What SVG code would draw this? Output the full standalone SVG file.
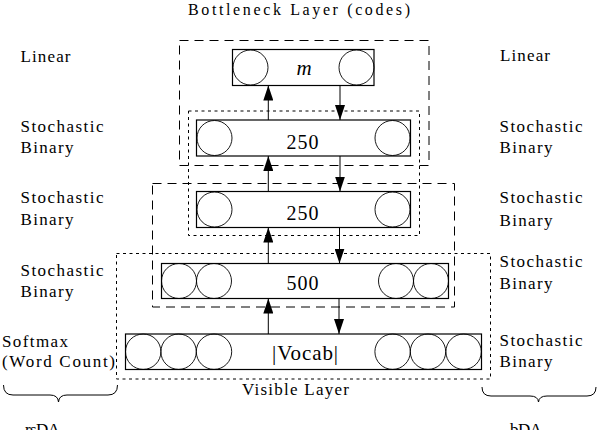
<svg xmlns="http://www.w3.org/2000/svg" width="598" height="430" viewBox="0 0 598 430">
<style>
text{font-family:"Liberation Serif","Times New Roman",serif;font-size:17px;fill:#000}
.num{font-size:20px}
.box{fill:#fff;stroke:#000;stroke-width:1.2}
.unit{fill:none;stroke:#000;stroke-width:0.9}
.dash{fill:none;stroke:#000;stroke-width:1;stroke-dasharray:9 6}
.dot{fill:none;stroke:#000;stroke-width:1;stroke-dasharray:3 3.5}
.conn{stroke:#000;stroke-width:1;fill:none}
.brace{fill:none;stroke:#000;stroke-width:1}
</style>
<defs>
<marker id="ah" viewBox="0 0 15 10" markerUnits="userSpaceOnUse" markerWidth="15" markerHeight="10" refX="15" refY="5" orient="auto">
<path d="M0,0 L15,5 L0,10 z" fill="#000"/>
</marker>
</defs>
<rect width="598" height="430" fill="#fff"/>

<g id="groups">
<rect class="dash" x="179.5" y="40.5" width="249.5" height="125"/>
<rect class="dot" x="188.5" y="111" width="231" height="124.5"/>
<rect class="dash" x="152.5" y="183.5" width="302" height="123.5"/>
<rect class="dot" x="116.5" y="253.5" width="374" height="125.5"/>
</g>

<g id="layer-m">
<rect class="box" x="232.5" y="49.5" width="141.5" height="36"/>
<circle class="unit" cx="250.5" cy="67.5" r="17.5"/>
<circle class="unit" cx="356.5" cy="67.5" r="17.5"/>
<text x="304" y="75" text-anchor="middle" style="font-style:italic;font-size:21px" textLength="18">m</text>
</g>

<g id="layer-250a">
<rect class="box" x="196.5" y="120" width="214" height="36"/>
<circle class="unit" cx="214.5" cy="138" r="17.5"/>
<circle class="unit" cx="392.5" cy="138" r="17.5"/>
<text class="num" x="302.5" y="148.5" text-anchor="middle" textLength="32">250</text>
</g>

<g id="layer-250b">
<rect class="box" x="196.5" y="191.5" width="214" height="36"/>
<circle class="unit" cx="214.5" cy="209.5" r="17.5"/>
<circle class="unit" cx="392.5" cy="209.5" r="17.5"/>
<text class="num" x="302.5" y="219.5" text-anchor="middle" textLength="32">250</text>
</g>

<g id="layer-500">
<rect class="box" x="161.5" y="263.5" width="287" height="35"/>
<circle class="unit" cx="179" cy="281" r="17.5"/>
<circle class="unit" cx="214" cy="281" r="17.5"/>
<circle class="unit" cx="396" cy="281" r="17.5"/>
<circle class="unit" cx="431" cy="281" r="17.5"/>
<text class="num" x="302.5" y="290" text-anchor="middle" textLength="32">500</text>
</g>

<g id="layer-vocab">
<rect class="box" x="125.5" y="334" width="356" height="35.5"/>
<circle class="unit" cx="143.2" cy="351.7" r="17.7"/>
<circle class="unit" cx="178.6" cy="351.7" r="17.7"/>
<circle class="unit" cx="214" cy="351.7" r="17.7"/>
<circle class="unit" cx="392.6" cy="351.7" r="17.7"/>
<circle class="unit" cx="428" cy="351.7" r="17.7"/>
<circle class="unit" cx="463.6" cy="351.7" r="17.7"/>
<text x="305" y="359.5" text-anchor="middle" style="font-size:21px" textLength="66">|Vocab|</text>
</g>

<g id="connectors">
<line class="conn" x1="268.3" y1="120" x2="268.3" y2="85.5" marker-end="url(#ah)"/>
<line class="conn" x1="340" y1="85.5" x2="340" y2="120" marker-end="url(#ah)"/>
<line class="conn" x1="268.3" y1="191.5" x2="268.3" y2="156" marker-end="url(#ah)"/>
<line class="conn" x1="340" y1="156" x2="340" y2="191.5" marker-end="url(#ah)"/>
<line class="conn" x1="268.3" y1="263.5" x2="268.3" y2="227.5" marker-end="url(#ah)"/>
<line class="conn" x1="339.5" y1="227.5" x2="339.5" y2="263.5" marker-end="url(#ah)"/>
<line class="conn" x1="268.3" y1="334" x2="268.3" y2="298.5" marker-end="url(#ah)"/>
<line class="conn" x1="339" y1="298.5" x2="339" y2="334" marker-end="url(#ah)"/>
</g>

<g id="labels">
<text x="188" y="14.5" style="font-size:16px" textLength="222">Bottleneck Layer (codes)</text>
<text x="20.5" y="61.5" textLength="50">Linear</text>
<text x="500" y="61" textLength="50">Linear</text>
<text x="20.5" y="131.7" textLength="83">Stochastic</text>
<text x="20.5" y="153.3" textLength="53">Binary</text>
<text x="20.5" y="203.3" textLength="83">Stochastic</text>
<text x="20.5" y="225" textLength="53">Binary</text>
<text x="20.5" y="275.5" textLength="83">Stochastic</text>
<text x="20.5" y="297" textLength="53">Binary</text>
<text x="2" y="346.7" textLength="66">Softmax</text>
<text x="2" y="366.7" textLength="113">(Word Count)</text>
<text x="499.5" y="131.7" textLength="83">Stochastic</text>
<text x="499.5" y="153.3" textLength="53">Binary</text>
<text x="499.5" y="203.3" textLength="83">Stochastic</text>
<text x="499.5" y="225.5" textLength="53">Binary</text>
<text x="499.5" y="266.5" textLength="83">Stochastic</text>
<text x="499.5" y="288.5" textLength="53">Binary</text>
<text x="499.5" y="346" textLength="83">Stochastic</text>
<text x="499.5" y="367" textLength="53">Binary</text>
<text x="242" y="395" textLength="107">Visible Layer</text>
<text x="25" y="434.5" textLength="35">rsDA</text>
<text x="510" y="434.5" textLength="32">bDA</text>
</g>

<g id="braces">
<path class="brace" d="M3.5,385 Q3.5,395 13,395 L50,395 Q58,395 58.5,402 Q59,395 67,395 L108,395 Q117.5,395 117.5,385"/>
<path class="brace" d="M482,387 Q482,396 491,396 L530,396 Q538,396 538.5,402 Q539,396 547,396 L587,396 Q596,396 596,387"/>
</g>
</svg>
